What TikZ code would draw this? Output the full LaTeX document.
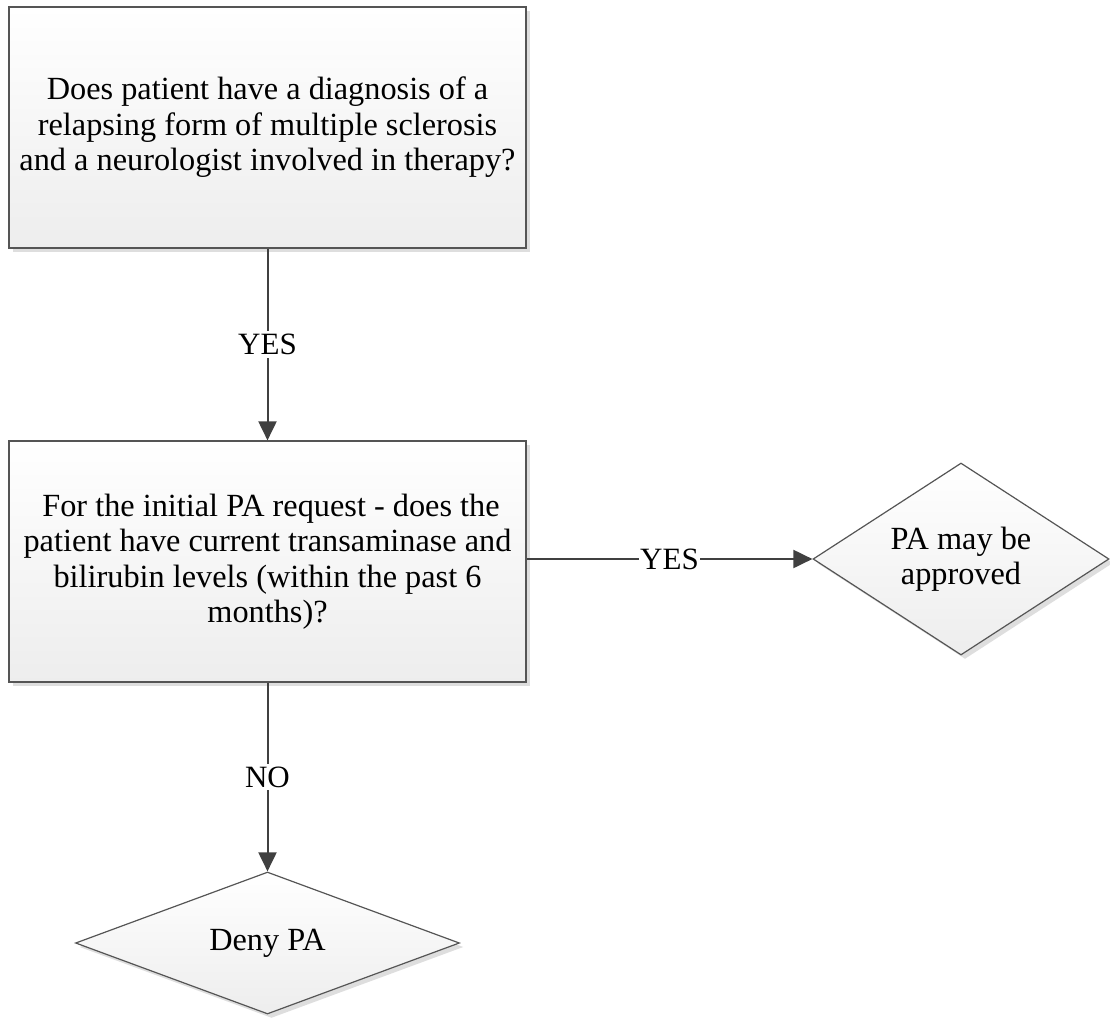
\documentclass[tikz,border=0pt]{standalone}
\usepackage{fontspec}
\setmainfont{Liberation Serif}
\usetikzlibrary{shapes.geometric,arrows.meta,shadows}
\definecolor{edgec}{HTML}{404040}
\definecolor{bordc}{HTML}{555555}
\begin{document}
\begin{tikzpicture}[x=1pt,y=-1pt,
  txt/.style={align=center, font=\fontsize{32.3}{35.5}\selectfont},
  shadowed/.style={drop shadow={shadow xshift=4pt, shadow yshift=-4pt, fill=black!13, opacity=1}},
  procbox/.style={txt, shadowed, draw=bordc, line width=1.2pt, top color=white, bottom color=black!7,
    minimum width=517pt, minimum height=241pt, inner sep=0pt},
  decbox/.style={txt, shadowed, diamond, draw=bordc, line width=1.2pt, top color=white, bottom color=black!7,
    inner sep=0pt},
  conn/.style={draw=edgec, line width=2pt, -{Triangle[length=19pt,width=18pt]}},
  lab/.style={align=center, font=\fontsize{31}{35}\selectfont, fill=white, inner xsep=1pt, inner ysep=3pt}]
\useasboundingbox (0,0) rectangle (1110,1017);
\node[procbox] (q1) at (267.5,127.5) {Does patient have a diagnosis of a\\relapsing form of multiple sclerosis\\and a neurologist involved in therapy?};
\node[procbox] (q2) at (267.5,561.5) {\hspace*{7pt}For the initial PA request - does the\\patient have current transaminase and\\bilirubin levels (within the past 6\\months)?};
\node[decbox, minimum width=296pt, minimum height=192pt, aspect=1.5] (ok) at (961,559) {PA may be\\approved};
\node[decbox, minimum width=384pt, minimum height=142pt, aspect=2.7] (deny) at (267.5,943) {Deny PA};
\draw[conn] (q1) -- node[lab] (l1) {YES} (q2);
\draw[conn] (q2.east |- ok.west) -- node[lab] (l2) {YES} (ok.west);
\draw[conn] (q2) -- node[lab] (l3) {NO} (deny);
\end{tikzpicture}
\end{document}
